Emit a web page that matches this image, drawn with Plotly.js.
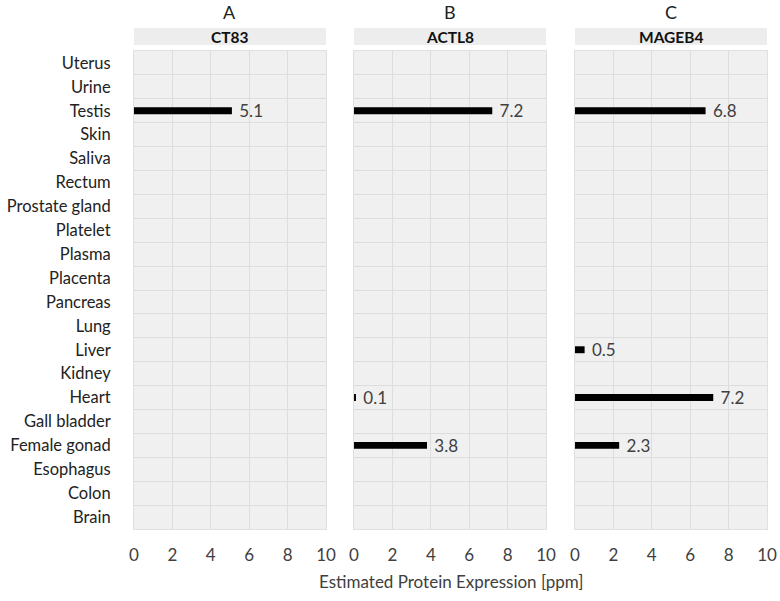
<!DOCTYPE html>
<html><head><meta charset="utf-8">
<script src="https://cdn.plot.ly/plotly-3.0.1.min.js"></script>
<style>body{margin:0;background:#fff}</style>
</head><body>
<div id="chart" style="width:780px;height:601px"></div>
<script>
const tissues = ["Uterus","Urine","Testis","Skin","Saliva","Rectum","Prostate gland","Platelet","Plasma","Placenta","Pancreas","Lung","Liver","Kidney","Heart","Gall bladder","Female gonad","Esophagus","Colon","Brain"];
const panelLetters = ["A","B","C"];
const genes = ["CT83","ACTL8","MAGEB4"];
const ct83   = [0,0,5.1,0,0,0,0,0,0,0,0,0,0,0,0,0,0,0,0,0];
const actl8  = [0,0,7.2,0,0,0,0,0,0,0,0,0,0,0,0.1,0,3.8,0,0,0];
const mageb4 = [0,0,6.8,0,0,0,0,0,0,0,0,0,0.5,0,7.2,0,2.3,0,0,0];
const xTicks = [0,2,4,6,8,10];
const xTitle = "Estimated Protein Expression [ppm]";

const series = [ct83, actl8, mageb4];
const idx = tissues.map((_, i) => i);
const FONT = "Lato, 'Open Sans', sans-serif";
const domains = [[0, 0.3033], [0.3476, 0.6509], [0.6967, 1]];

const traces = series.map((vals, k) => ({
  type: "bar", orientation: "h",
  x: vals, y: idx,
  xaxis: k === 0 ? "x" : "x" + (k + 1),
  yaxis: k === 0 ? "y" : "y" + (k + 1),
  width: 0.29,
  marker: {color: "#000"},
  text: vals.map(v => v > 0 ? "\u00a0" + v.toFixed(1) : ""),
  textposition: "outside",
  constraintext: "none",
  textfont: {family: FONT, size: 17, color: "#404040"},
  cliponaxis: false,
  hoverinfo: "x+y"
}));

const layout = {
  width: 780, height: 601,
  margin: {l: 134, r: 13, t: 51, b: 72},
  paper_bgcolor: "#fff",
  plot_bgcolor: "#f0f0f0",
  showlegend: false,
  font: {family: FONT, color: "#222"},
  shapes: [], annotations: []
};

for (let k = 0; k < 3; k++) {
  const sx = k === 0 ? "" : String(k + 1);
  layout["xaxis" + sx] = {
    domain: domains[k], range: [0, 10], anchor: "y" + sx,
    tickvals: xTicks, ticktext: xTicks.map(String),
    showgrid: true, gridcolor: "#dddddd", gridwidth: 1,
    zeroline: false, showline: true, mirror: true, linecolor: "#e0e0e0",
    ticks: "outside", ticklen: 11, tickcolor: "rgba(0,0,0,0)",
    tickfont: {family: FONT, size: 17, color: "#404040"},
    fixedrange: true
  };
  layout["yaxis" + sx] = {
    anchor: "x" + sx, range: [19.5, -0.5],
    tickvals: idx, ticktext: tissues,
    showticklabels: k === 0,
    showgrid: false, zeroline: false,
    showline: true, mirror: true, linecolor: "#e0e0e0",
    ticks: k === 0 ? "outside" : "", ticklen: 19, tickcolor: "rgba(0,0,0,0)",
    tickfont: {family: FONT, size: 16.5, color: "#222"},
    minor: {tickmode: "array", tickvals: idx.slice(1).map(i => i - 0.5), showgrid: true, gridcolor: "#dddddd", gridwidth: 1, ticks: ""},
    fixedrange: true
  };
  const xr = (k === 0 ? "x" : "x" + (k + 1)) + " domain";
  layout.shapes.push({type: "rect", xref: xr, yref: "paper", x0: 0, x1: 1, y0: 1.0126, y1: 1.0481,
    fillcolor: "#ededed", line: {width: 0}, layer: "below"});
  layout.annotations.push({xref: xr, yref: "paper", x: 0.5, y: 1.0303, text: "<b>" + genes[k] + "</b>",
    showarrow: false, font: {family: FONT, size: 15.5, color: "#111"}, yanchor: "middle"});
  layout.annotations.push({xref: xr, yref: "paper", x: 0.5, y: 1.0826, text: panelLetters[k],
    showarrow: false, font: {family: FONT, size: 18, color: "#222"}, yanchor: "middle"});
}
layout.annotations.push({xref: "paper", yref: "paper", x: 0.5, y: -0.11, text: xTitle,
  showarrow: false, font: {family: FONT, size: 17, color: "#404040"}, yanchor: "middle"});

Plotly.newPlot("chart", traces, layout, {displayModeBar: false, staticPlot: true});
</script>
</body></html>
